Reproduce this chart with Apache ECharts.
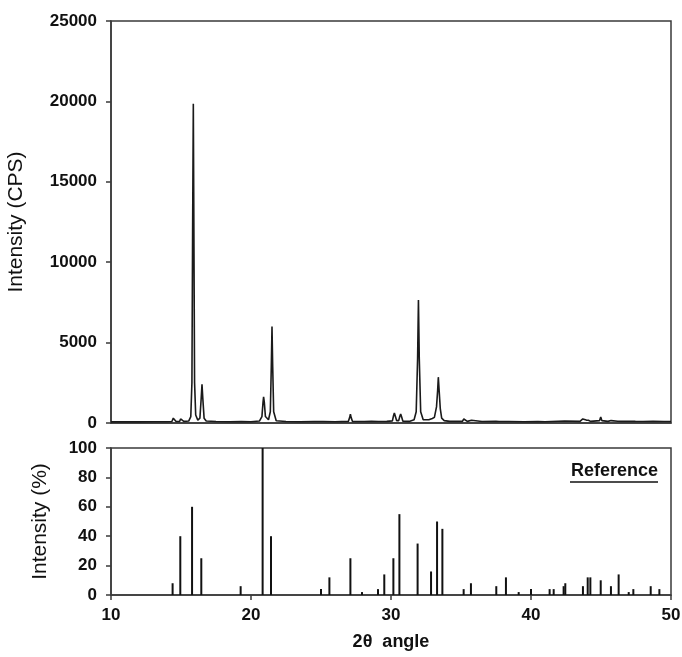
<!DOCTYPE html>
<html>
<head>
<meta charset="utf-8">
<script src="https://cdn.jsdelivr.net/npm/echarts@6/dist/echarts.min.js"></script>
<style>
html,body{margin:0;padding:0;background:#fff;}
#chart{width:682px;height:657px;}
</style>
</head>
<body>
<div id="chart"></div>
<script>
// Measured XRD pattern (2θ in degrees, intensity in CPS)
const patternAngle = [10.0,11.0,12.0,13.0,14.0,14.35,14.45,14.5,14.56,14.65,14.9,14.97,15.02,15.08,15.2,15.55,15.7,15.78,15.83,15.88,15.92,15.97,16.05,16.2,16.35,16.44,16.5,16.56,16.65,16.8,17.5,18.5,19.3,20.0,20.6,20.78,20.86,20.9,20.95,21.03,21.25,21.38,21.45,21.5,21.55,21.62,21.8,22.5,23.5,24.5,25.0,25.07,25.15,26.0,26.95,27.05,27.1,27.15,27.25,27.9,28.0,28.1,28.6,29.1,29.2,29.3,29.7,30.1,30.18,30.24,30.3,30.4,30.55,30.63,30.69,30.75,30.85,31.3,31.65,31.8,31.9,31.96,32.02,32.12,32.3,32.7,32.95,33.1,33.25,33.33,33.38,33.44,33.52,33.62,33.72,33.8,34.2,35.1,35.2,35.26,35.32,35.45,35.75,35.85,36.5,37.5,37.62,37.72,38.2,38.3,38.4,39.5,40.5,41.0,42.4,42.5,43.5,43.7,43.8,43.95,44.1,44.25,44.9,44.98,45.06,45.5,45.72,45.8,46.2,46.3,46.4,47.3,47.38,47.45,48.0,48.72,48.79,48.86,49.5,50.0];
const patternCps   = [70,80,70,80,80,90,300,390,300,90,90,250,330,250,100,120,400,2500,12000,19850,12000,2500,500,180,300,1500,2400,1500,300,120,90,80,90,80,120,400,1300,1620,1300,400,200,700,3500,6000,3500,700,140,90,80,90,90,140,90,80,100,350,550,350,100,90,190,90,100,90,150,90,100,130,450,620,450,150,150,420,560,400,110,100,200,700,4000,7650,4000,700,200,200,280,350,1000,2000,2850,2000,900,300,280,150,100,100,250,300,220,100,170,100,90,100,160,90,90,100,90,80,90,80,120,90,100,250,300,180,170,100,150,370,150,100,150,100,110,190,100,110,150,100,90,110,180,100,90,90];

// Reference pattern sticks (2θ, relative intensity %)
const refAngle = [14.4,14.95,15.79,16.45,19.26,20.83,21.43,25.0,25.6,27.1,27.93,29.07,29.52,30.17,30.6,31.9,32.86,33.29,33.67,35.19,35.71,37.52,38.21,39.12,40.0,41.33,41.62,42.33,42.45,43.71,44.05,44.24,44.98,45.71,46.26,46.98,47.31,48.55,49.17];
const refPct   = [8,40,60,25,6,100,40,4,12,25,2,4,14,25,55,35,16,50,45,4,8,6,12,2,4,4,4,6,8,6,12,12,10,6,14,2,4,6,4];

const xTicks = [10,20,30,40,50];
const cpsTicks = [0,5000,10000,15000,20000,25000];
const pctTicks = [0,20,40,60,80,100];

const FONT = '"Liberation Sans", Arial, sans-serif';
const AX = '#3a3a3a';

const pattern = patternAngle.map((a,i)=>[a, patternCps[i]]);
const sticks = refAngle.map((a,i)=>[a, refPct[i]]);

const chart = echarts.init(document.getElementById('chart'), null, {renderer:'canvas'});
const axisLine = {show:true, lineStyle:{color:AX, width:1.5}};
const tickStyle = {show:true, inside:false, length:5, lineStyle:{color:AX, width:1.5}};
const labelStyle = {color:'#111', fontFamily:FONT, fontWeight:'bold', fontSize:17, formatter:(v)=>String(v)};

chart.setOption({
  animation:false,
  backgroundColor:'#fff',
  grid:[
    {left:111, right:11, top:21, height:402, show:true, borderColor:AX, borderWidth:1.5, backgroundColor:'transparent', containLabel:false, outerBoundsMode:'none'},
    {left:111, right:11, top:448, height:147, show:true, borderColor:AX, borderWidth:1.5, backgroundColor:'transparent', containLabel:false, outerBoundsMode:'none'}
  ],
  xAxis:[
    {type:'value', gridIndex:0, min:xTicks[0], max:xTicks[xTicks.length-1], interval:10,
     axisLine:axisLine, axisTick:{show:false}, axisLabel:{show:false}, splitLine:{show:false}},
    {type:'value', gridIndex:1, min:xTicks[0], max:xTicks[xTicks.length-1], interval:10,
     axisLine:axisLine, axisTick:tickStyle, splitLine:{show:false},
     axisLabel:Object.assign({margin:12}, labelStyle),
     name:'2θ  angle', nameLocation:'middle', nameGap:38,
     nameTextStyle:{color:'#111', fontFamily:FONT, fontWeight:'bold', fontSize:18}}
  ],
  yAxis:[
    {type:'value', gridIndex:0, min:cpsTicks[0], max:cpsTicks[cpsTicks.length-1], interval:5000,
     axisLine:axisLine, axisTick:tickStyle, splitLine:{show:false},
     axisLabel:Object.assign({margin:14}, labelStyle),
     name:'Intensity (CPS)', nameLocation:'middle', nameGap:84, nameRotate:90,
     nameTextStyle:{color:'#111', fontFamily:FONT, fontSize:21}},
    {type:'value', gridIndex:1, min:pctTicks[0], max:pctTicks[pctTicks.length-1], interval:20,
     axisLine:axisLine, axisTick:tickStyle, splitLine:{show:false},
     axisLabel:Object.assign({margin:14}, labelStyle),
     name:'Intensity (%)', nameLocation:'middle', nameGap:60, nameRotate:90,
     nameTextStyle:{color:'#111', fontFamily:FONT, fontSize:21}}
  ],
  series:[
    {type:'line', xAxisIndex:0, yAxisIndex:0, data:pattern, showSymbol:false, symbol:'none',
     lineStyle:{color:'#1a1a1a', width:1.6}, z:3},
    {type:'bar', xAxisIndex:1, yAxisIndex:1, data:sticks, barWidth:2,
     itemStyle:{color:'#111'}, z:3}
  ],
  graphic:[
    {type:'text', right:24, top:462, style:{text:'Reference', fill:'#111', font:'bold 18px '+FONT}},
    {type:'line', shape:{x1:570, y1:482, x2:658, y2:482}, style:{stroke:'#111', lineWidth:1.6}}
  ]
});
</script>
</body>
</html>
